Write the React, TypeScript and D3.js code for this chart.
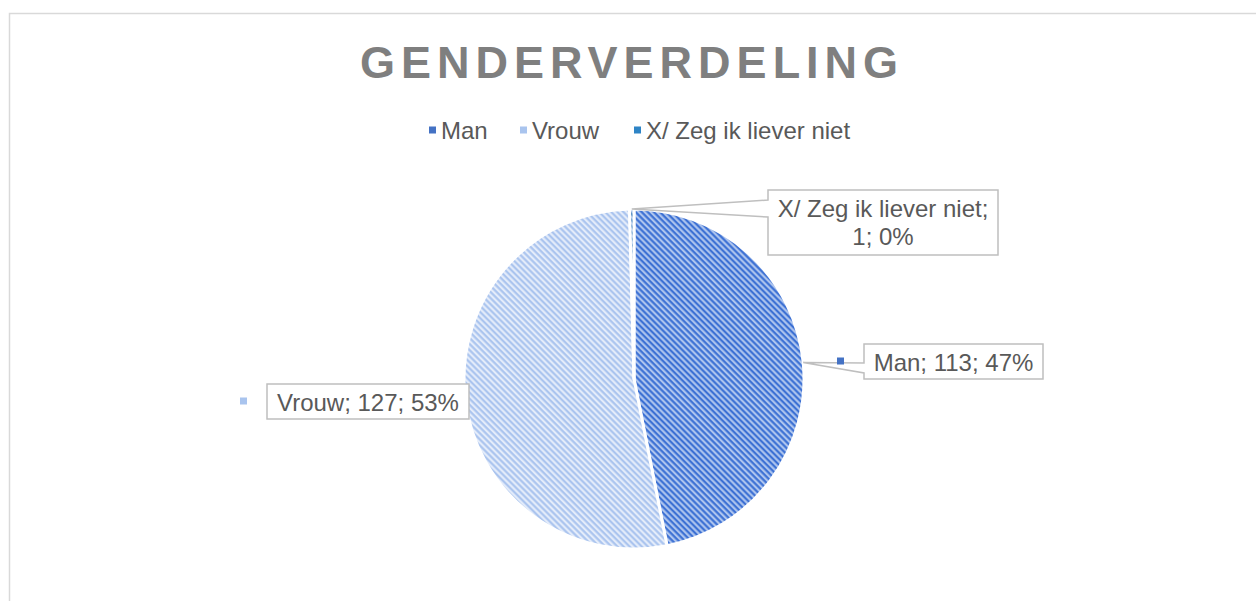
import React, { useRef, useEffect } from "react";
import * as d3 from "d3";

// chart data
const categories = ["Man", "Vrouw", "X/ Zeg ik liever niet"];
const counts = [113, 127, 1];
const percentLabels = ["47%", "53%", "0%"];

const title = "GENDERVERDELING";

// fill styles per slice (background + stripe)
const sliceBg = ["#aec5ee", "#e4ecfa", "#9fbde8"];
const sliceStripe = ["#336ad2", "#a6c1ee", "#2e75b6"];
const legendColors = ["#4472c4", "#a9c4ee", "#2e84c6"];

const App = () => {
  const svgRef = useRef<SVGSVGElement>(null);

  useEffect(() => {
    const width = 1256;
    const height = 601;
    const svg = d3.select(svgRef.current);
    svg.selectAll("*").remove();
    svg.attr("width", width).attr("height", height);

    const font = "'Liberation Sans', Arial, sans-serif";
    const textColor = "#595959";

    // chart area border
    svg.append("rect")
      .attr("x", 9.5)
      .attr("y", 13.5)
      .attr("width", 1262)
      .attr("height", 600)
      .attr("fill", "white")
      .attr("stroke", "#d9d9d9")
      .attr("stroke-width", 1.5);

    // stripe patterns
    const defs = svg.append("defs");
    categories.forEach((c, i) => {
      const p = defs.append("pattern")
        .attr("id", "pat" + i)
        .attr("patternUnits", "userSpaceOnUse")
        .attr("width", 4.3)
        .attr("height", 4.3)
        .attr("patternTransform", "rotate(45)");
      p.append("rect").attr("width", 4.3).attr("height", 4.3).attr("fill", sliceBg[i]);
      p.append("line")
        .attr("x1", 0).attr("x2", 4.3)
        .attr("y1", 1.2).attr("y2", 1.2)
        .attr("stroke", sliceStripe[i])
        .attr("stroke-width", 2);
    });

    // title
    svg.append("text")
      .attr("x", 632)
      .attr("y", 78)
      .attr("text-anchor", "middle")
      .style("font-family", font)
      .style("font-size", "45px")
      .style("font-weight", "bold")
      .style("letter-spacing", "6px")
      .attr("fill", "#7f7f7f")
      .text(title);

    // legend
    const legend = svg.append("g").attr("transform", "translate(0,130)");
    const legendX = [429, 520, 634];
    categories.forEach((c, i) => {
      legend.append("rect")
        .attr("x", legendX[i])
        .attr("y", -3.5)
        .attr("width", 7)
        .attr("height", 7)
        .attr("fill", legendColors[i]);
      legend.append("text")
        .attr("x", legendX[i] + 12)
        .attr("y", 8.5)
        .style("font-family", font)
        .style("font-size", "24px")
        .attr("fill", textColor)
        .text(c);
    });

    // pie
    const cx = 634, cy = 379, r = 170;
    const pie = d3.pie<number>().sort(null).value(d => d);
    const arcs = pie(counts);
    const arc = d3.arc<d3.PieArcDatum<number>>().innerRadius(0).outerRadius(r);

    const g = svg.append("g").attr("transform", `translate(${cx},${cy})`);
    g.selectAll(".slice")
      .data(arcs)
      .enter()
      .append("path")
      .attr("class", "slice")
      .attr("d", arc)
      .attr("fill", (d, i) => `url(#pat${i})`)
      .attr("stroke", "white")
      .attr("stroke-width", 3)
      .attr("stroke-linejoin", "round");

    // data labels (callouts)
    const boxes = [
      { x: 864, y: 344, w: 179, h: 35 },
      { x: 267, y: 384, w: 202, h: 35 },
      { x: 768, y: 190, w: 230, h: 65 },
    ];
    // where the pointer meets the box's left edge (offsets from box top)
    const pointerBase = [[19, 29], null, [10, 27]];
    const labelGroup = svg.append("g");
    arcs.forEach((a, i) => {
      const mid = (a.startAngle + a.endAngle) / 2;
      const tx = cx + r * Math.sin(mid);
      const ty = cy - r * Math.cos(mid);
      const b = boxes[i];
      const lines = i === 2
        ? [`${categories[i]};`, `${counts[i]}; ${percentLabels[i]}`]
        : [`${categories[i]}; ${counts[i]}; ${percentLabels[i]}`];

      let path = `M${b.x},${b.y}H${b.x + b.w}V${b.y + b.h}H${b.x}`;
      const pb = pointerBase[i];
      if (pb && tx < b.x) {
        path += `V${b.y + pb[1]}L${tx},${ty}L${b.x},${b.y + pb[0]}Z`;
      } else {
        path += "Z";
      }
      labelGroup.append("path")
        .attr("d", path)
        .attr("fill", "white")
        .attr("stroke", "#bfbfbf")
        .attr("stroke-width", 1.5)
        .attr("stroke-linejoin", "miter");

      // legend key beside label
      if (i < 2) {
        labelGroup.append("rect")
          .attr("x", b.x - 27)
          .attr("y", b.y + b.h / 2 - 4)
          .attr("width", 7)
          .attr("height", 7)
          .attr("fill", legendColors[i]);
      }

      lines.forEach((t, j) => {
        labelGroup.append("text")
          .attr("x", b.x + b.w / 2)
          .attr("y", b.y + 27 + j * 28)
          .attr("text-anchor", "middle")
          .style("font-family", font)
          .style("font-size", "24px")
          .attr("fill", textColor)
          .text(t);
      });
    });
  }, []);

  return (
    <svg
      ref={svgRef}
      style={{ position: "absolute", left: 0, top: 0, display: "block" }}
    ></svg>
  );
};

export default App;
